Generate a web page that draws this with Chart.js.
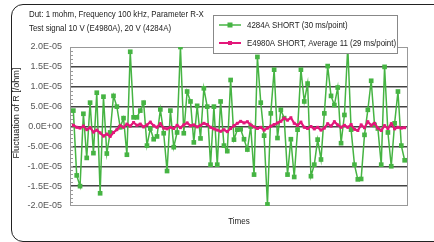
<!DOCTYPE html>
<html>
<head>
<meta charset="utf-8">
<script src="https://cdn.jsdelivr.net/npm/chart.js@4.4.0/dist/chart.umd.min.js"></script>
<style>
  html, body { margin: 0; padding: 0; background: #fff; }
  #wrap { position: relative; width: 434px; height: 242px; overflow: hidden; }
  #chart { position: absolute; left: 0; top: 0; }
  #frame {
    position: absolute; left: 11px; top: 4px; width: 440px; height: 236px;
    border: 1.5px solid #222; border-radius: 12px; pointer-events: none;
  }
</style>
</head>
<body>
<div id="wrap">
  <canvas id="chart" width="434" height="242"></canvas>
  <div id="frame"></div>
</div>
<script>
const headerLines = ["Dut: 1 mohm, Frequency 100 kHz, Parameter R-X", "Test signal 10 V (E4980A), 20 V (4284A)"];
const yTitle = "Fluctuation of R [/ohm]";
const xTitle = "Times";
const greenLabel = "4284A SHORT (30 ms/point)";
const pinkLabel = "E4980A SHORT, Average 11 (29 ms/point)";

// values in units of 1E-06 ohm
const green4284 = [
  4.0, -12.3, -15, 3.2, -7.9, 6, -6.7, 8.5, -16.8, 7.5, -6.8, -1.5, 7.7, 5, -0.2, 2.1, -7.1, 18.8, 2.3, 2.3, 4, 6, -4.8, -0.5,
  -3.2, -2.5, 4.3, -1.7, -11.2, 4, -5.2, -1.5, 20, -1.7, 8.8, 6.3, -4, 5.2, -3, 9.6, 5, -9.6, 5, -9.6, 6.3, -4.8, -6.2, 11.7, -3.3, -0.8,
  -0.7, -3.2, -5.8, 0, -12.1, 17.5, 6, -2.3, -19.6, 3.3, 14.3, -2.9, 4.2, 2.1, -12.1, -3.2, -12.7, -0.8, 14.3, 6.3, 10.8, -12.5, -9.6, -3.3,
  -8.3, 3.3, 15.2, 7.7, 5.4, 9.8, -4.2, 2.9, 20, -0.8, -9.6, -13.3, -13.2, -2.1, 4.2, 11.5, 0.4, -0.5, -9.6, 15, -1.5, -10, 0.8, 8.8, -4.8, -8.5
];
const pinkE4980 = [
  0.3, -0.2, -0.4, 0.1, -0.8, -0.3, -1.4, -0.9, -1.6, -2.4, -1.9, -2.5, -1.5, -0.8, 0.2, -0.2, 0.6, 0.1, 1.0, 0.3,
  0.6, -0.1, 0.4, 1.1, 0.2, -0.2, 0.7, -0.4, -0.6, -0.2, -0.5, 0.3, -0.3, 0.4, 0.9, 0.2, 0.4, -0.1, 0.3, 0.8,
  0.5, -0.2, -0.6, -0.9, -1.2, -0.8, -1.3, -0.5, 0.2, 0.8, 1.3, 0.9, 1.2, 0.4, -0.1, -0.5, -0.2, -0.9, -0.4, 0.1,
  0.5, 0.9, 1.3, 2.1, 1.6, 2.2, 0.8, 0.3, 1.1, -0.2, -0.5, 0.0, -0.6, -0.2, -0.9, -0.4, 0.7, 0.1, 1.2, 0.4,
  -0.2, 0.3, -0.2, 0.5, -0.7, -1.0, 0.4, -0.3, 1.2, 0.3, 0.8, -0.4, -1.0, 0.2, -0.5, 0.7, -0.6, -0.2, -0.4, -0.3
];
const yMin = -2e-5, yMax = 2e-5, yStep = 5e-6;

const GREEN = "#46b443";
const PINK = "#e3177a";
const FONT = "'Liberation Sans', Arial, sans-serif";

function sci(v) {
  if (Math.abs(v) < 1e-12) return "0.0E+00";
  const [m, e] = v.toExponential(1).split("e");
  const n = parseInt(e, 10);
  return m + "E" + (n < 0 ? "-" : "+") + String(Math.abs(n)).padStart(2, "0");
}

// the source uses a condensed face, so squeeze the text horizontally
function narrowText(ctx, text, x, y, sx) {
  ctx.save();
  ctx.translate(x, y);
  ctx.scale(sx, 1);
  ctx.fillText(text, 0, 0);
  ctx.restore();
}

const toPoints = (arr) => arr.map((v, i) => ({ x: i + 1, y: v * 1e-6 }));

const extras = {
  id: "extras",
  beforeDatasetsDraw(chart) {
    const { ctx, chartArea: a, scales } = chart;
    ctx.save();
    ctx.strokeStyle = "#999";
    ctx.lineWidth = 1;
    ctx.strokeRect(a.left + 0.5, a.top + 0.5, a.right - a.left - 1, a.bottom - a.top - 1);
    for (let v = -19; v <= 19; v++) {
      const y = Math.round(scales.y.getPixelForValue(v * 1e-6)) + 0.5;
      ctx.beginPath();
      ctx.moveTo(a.left, y);
      ctx.lineTo(a.left + 3, y);
      ctx.stroke();
    }
    ctx.restore();
  },
  afterDraw(chart) {
    const { ctx, chartArea: a } = chart;
    ctx.save();
    ctx.fillStyle = "#222";
    ctx.font = "9.5px " + FONT;
    ctx.textBaseline = "middle";
    ctx.textAlign = "left";
    narrowText(ctx, headerLines[0], 29, 14, 0.83);
    narrowText(ctx, headerLines[1], 29, 28, 0.83);

    ctx.textAlign = "center";
    narrowText(ctx, xTitle, (a.left + a.right) / 2, 221, 0.85);

    ctx.save();
    ctx.translate(16, 113);
    ctx.rotate(-Math.PI / 2);
    narrowText(ctx, yTitle, 0, 0, 0.95);
    ctx.restore();

    // legend box
    ctx.fillStyle = "#fff";
    ctx.fillRect(213, 15, 184, 38);
    ctx.strokeStyle = "#888";
    ctx.lineWidth = 1;
    ctx.strokeRect(213.5, 15.5, 184, 38);
    const entries = [
      { label: greenLabel, color: GREEN, y: 25, size: 5, lw: 1.5 },
      { label: pinkLabel, color: PINK, y: 43, size: 4, lw: 2 }
    ];
    entries.forEach((e) => {
      ctx.strokeStyle = e.color;
      ctx.lineWidth = e.lw;
      ctx.beginPath();
      ctx.moveTo(219, e.y);
      ctx.lineTo(241, e.y);
      ctx.stroke();
      ctx.fillStyle = e.color;
      ctx.fillRect(230 - e.size / 2, e.y - e.size / 2, e.size, e.size);
      ctx.fillStyle = "#222";
      ctx.textAlign = "left";
      narrowText(ctx, e.label, 247, e.y, 0.83);
    });
    ctx.restore();
  }
};

new Chart(document.getElementById("chart"), {
  type: "line",
  data: {
    datasets: [
      {
        label: pinkLabel,
        data: toPoints(pinkE4980),
        borderColor: PINK,
        backgroundColor: PINK,
        borderWidth: 2.2,
        pointStyle: "rect",
        pointRadius: 2.1,
        pointBorderWidth: 0,
        tension: 0
      },
      {
        label: greenLabel,
        data: toPoints(green4284),
        borderColor: GREEN,
        backgroundColor: GREEN,
        borderWidth: 1.5,
        pointStyle: "rect",
        pointRadius: 3.3,
        pointBorderWidth: 0,
        tension: 0
      }
    ]
  },
  options: {
    responsive: false,
    animation: false,
    events: [],
    layout: { padding: { left: 12, right: 26, top: 47, bottom: 36 } },
    plugins: { legend: { display: false }, tooltip: { enabled: false } },
    scales: {
      x: { type: "linear", min: 0, max: 101, display: false },
      y: {
        min: yMin,
        max: yMax,
        afterFit: (scale) => { scale.width = 58; },
        ticks: {
          stepSize: yStep,
          padding: 8,
          color: "#555",
          font: { family: FONT, size: 9 },
          callback: (v) => sci(v)
        },
        grid: {
          drawTicks: false,
          lineWidth: 1.5,
          color: (c) => (Math.abs(Math.abs(c.tick.value) - 2e-5) < 1e-9 ? "rgba(0,0,0,0)" : "#444")
        },
        border: { display: false }
      }
    }
  },
  plugins: [extras]
});
</script>
</body>
</html>
